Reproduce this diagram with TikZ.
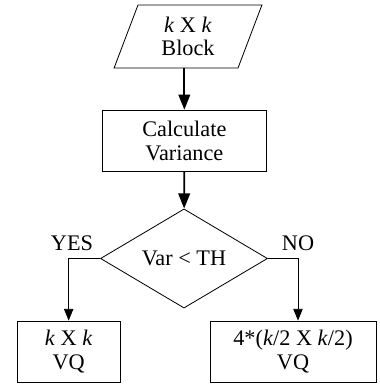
\documentclass[tikz,border=0pt]{standalone}
\usepackage{fontspec}
\setmainfont{Liberation Serif}
\usetikzlibrary{shapes.geometric,arrows.meta}

\begin{document}
\begin{tikzpicture}[x=1cm,y=1cm,font=\fontsize{19}{20}\selectfont,
    process/.style={rectangle,draw,line width=.7pt,align=center,inner sep=0pt},
    inout/.style={trapezium,trapezium left angle=72,trapezium right angle=108,
      trapezium stretches=true,draw,line width=.7pt,align=center,inner sep=0pt,
      minimum width=4.44cm,minimum height=1.89cm},
    decision/.style={diamond,draw,line width=.7pt,inner sep=0pt,
      minimum width=5.01cm,minimum height=2.49cm},
    flow/.style={line width=1.5pt,-{Triangle[length=13pt,width=10pt]}},
    branch/.style={line width=.7pt,-{Triangle[length=10pt,width=8pt]}}]
    \useasboundingbox (0,0) rectangle (11.37,11.61);
    \node[inout] (blk) at (5.64,10.515) {\textit{k} X \textit{k}\\Block};
    \node[process,minimum width=4.92cm,minimum height=1.85cm] (var)
      at (5.53,7.38) {Calculate\\Variance};
    \node[decision] (dec) at (5.52,3.855) {Var < TH};
    \node[process,minimum width=3.09cm,minimum height=1.83cm] (vql)
      at (2.06,1.065) {\textit{k} X \textit{k}\\VQ};
    \node[process,minimum width=4.98cm,minimum height=1.83cm] (vqr)
      at (8.79,1.065) {4*(\textit{k}/2 X \textit{k}/2)\\VQ};
    \coordinate (nodrop) at ([xshift=.15cm]vqr.north);
    \draw[flow] (blk.south -| var.north) -- (var.north);
    \draw[flow] (var) -- (dec);
    \draw[branch] (dec.west) -| (vql.north);
    \draw[branch] (dec.east) -| (nodrop);
    \node (yes) at (2.16,4.32) {YES};
    \node (no) at (8.94,4.32) {NO};
  \end{tikzpicture}
\end{document}
